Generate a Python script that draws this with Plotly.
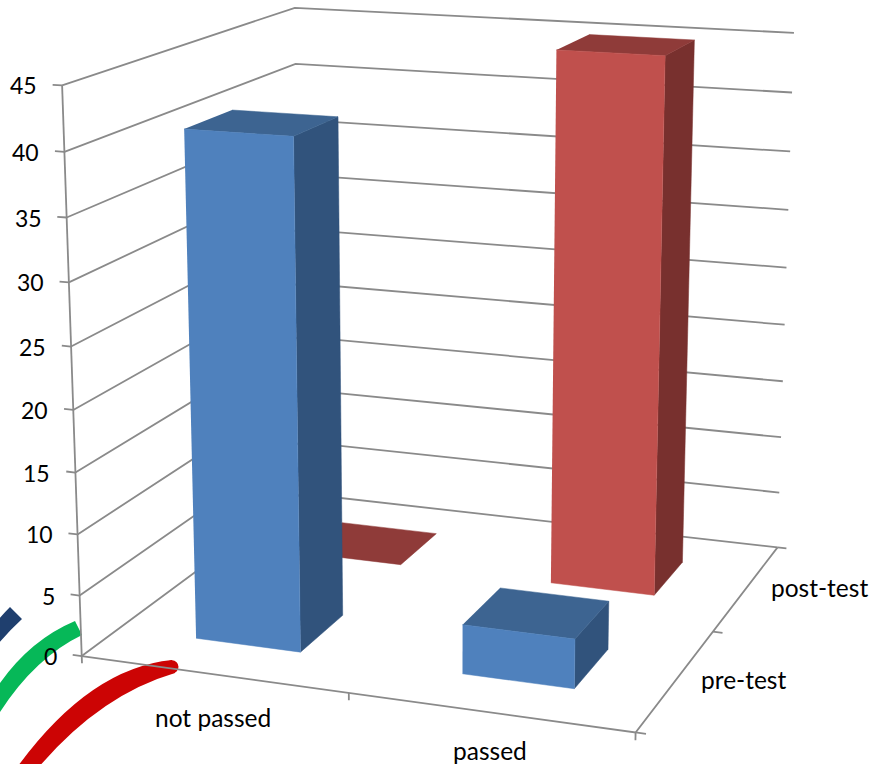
import numpy as np
import plotly.graph_objects as go

WIDTH, HEIGHT = 869, 764

# Chart data
categories = ["not passed", "passed"]
series_names = ["pre-test", "post-test"]
pre_test = [41, 4]
post_test = [0, 45]
value_ticks = list(range(0, 50, 5))
VALUE_MAX = 45

# Bars take the middle of each category/series cell
BAR_LOW, BAR_HIGH = 0.3, 0.7

BLUE = dict(front="#4F81BD", top="#3D6491", side="#31537C")
RED = dict(front="#C0504D", top="#8F3B39", side="#78302E")
GRID = "#8A8A8A"
TICK_FONT = dict(family="Lato", size=23, color="#000000")
LABEL_FONT = dict(family="Lato", size=24.5, color="#000000")

# Perspective camera: world (category, series, value / VALUE_MAX, 1) to page units
CAMERA = np.array([
    [0.255083, 0.137333, -0.022841, 0.081730],
    [0.013029, -0.036054, -0.575123, 0.656080],
    [-0.034366, 0.091614, -0.051793, 1.000000],
])


def project(cat, ser, val):
    q = CAMERA @ np.array([cat, ser, val / VALUE_MAX, 1.0])
    return q[0] / q[2] * 1000, q[1] / q[2] * 1000


fig = go.Figure()


def polyline(points, width=1.8, color=GRID):
    xy = [project(*p) for p in points]
    fig.add_trace(go.Scatter(
        x=[p[0] for p in xy], y=[p[1] for p in xy], mode="lines",
        line=dict(color=color, width=width), hoverinfo="skip",
    ))


def face(points, color):
    xy = [project(*p) for p in points]
    fig.add_trace(go.Scatter(
        x=[p[0] for p in xy], y=[p[1] for p in xy], mode="lines",
        fill="toself", fillcolor=color,
        line=dict(color=color, width=0.5), hoverinfo="skip",
    ))


def bar(cat_index, ser_index, value, palette):
    x0, x1 = cat_index + BAR_LOW, cat_index + BAR_HIGH
    y0, y1 = ser_index + BAR_LOW, ser_index + BAR_HIGH
    if value > 0:
        face([(x1, y0, 0), (x1, y1, 0), (x1, y1, value), (x1, y0, value)], palette["side"])
    face([(x0, y0, value), (x1, y0, value), (x1, y1, value), (x0, y1, value)], palette["top"])
    if value > 0:
        face([(x0, y0, 0), (x1, y0, 0), (x1, y0, value), (x0, y0, value)], palette["front"])


n_cat, n_ser = len(categories), len(series_names)

# Gridlines on the two rear walls
for v in value_ticks:
    polyline([(0, 0, v), (0, n_ser, v), (n_cat, n_ser, v)])

# Axis lines and tick marks
polyline([(0, 0, 0), (0, 0, VALUE_MAX)])
polyline([(0, 0, 0), (n_cat, 0, 0), (n_cat, n_ser, 0)])
for v in value_ticks:
    polyline([(-0.035, 0, v), (0, 0, v)])
for c in range(n_cat + 1):
    polyline([(c, 0, 0), (c, 0, -0.6)])
for s in range(n_ser + 1):
    polyline([(n_cat, s, 0), (n_cat + 0.035, s, 0)])

# Bars, rear row first so the front row overlaps it
for i, v in enumerate(post_test):
    bar(i, 1, v, RED)
for i, v in enumerate(pre_test):
    bar(i, 0, v, BLUE)

# Axis labels
annotations = []
for v in value_ticks:
    px, py = project(0, 0, v)
    annotations.append(dict(x=px, y=py, text=str(v), xanchor="right", yanchor="middle",
                            xshift=-24, yshift=0, font=TICK_FONT))
category_drop = [43, 38]
for i, name in enumerate(categories):
    px, py = project(i + 0.5, 0, 0)
    annotations.append(dict(x=px, y=py, text=name, xanchor="center", yanchor="middle",
                            xshift=0, yshift=-category_drop[i], font=LABEL_FONT))
series_offset = [67, 73]
for i, name in enumerate(series_names):
    px, py = project(n_cat, i + 0.5, 0)
    annotations.append(dict(x=px, y=py, text=name, xanchor="center", yanchor="middle",
                            xshift=series_offset[i], yshift=0, font=LABEL_FONT))
for a in annotations:
    a.update(xref="x", yref="y", showarrow=False, borderpad=0)

# Decorative tapered arcs in the lower-left corner
arcs = [
    ("M 172 660 Q 90 668 18 766 L 38 768 Q 100 695 175 673 Z", "#CC0404"),
    ("M 75 621 Q 25 642 -8 695 L -8 725 Q 30 660 82 635 Z", "#06B858"),
    ("M 10 607 L 22 619 Q 10 630 -2 644 L -2 620 Q 4 613 10 607 Z", "#1F3F6E"),
]
shapes = [dict(type="path", path=d, xref="x", yref="y", layer="below",
               fillcolor=c, line=dict(width=0)) for d, c in arcs]
shapes.append(dict(type="circle", xref="x", yref="y", layer="below", x0=165.5, x1=178.5,
                   y0=660.3, y1=673.3, fillcolor="#CC0404", line=dict(width=0)))

fig.update_layout(
    width=WIDTH, height=HEIGHT, margin=dict(l=0, r=0, t=0, b=0),
    paper_bgcolor="white", plot_bgcolor="white", showlegend=False,
    xaxis=dict(range=[0, WIDTH], visible=False),
    yaxis=dict(range=[HEIGHT, 0], visible=False),
    annotations=annotations, shapes=shapes,
)
fig.write_html("out.html")
